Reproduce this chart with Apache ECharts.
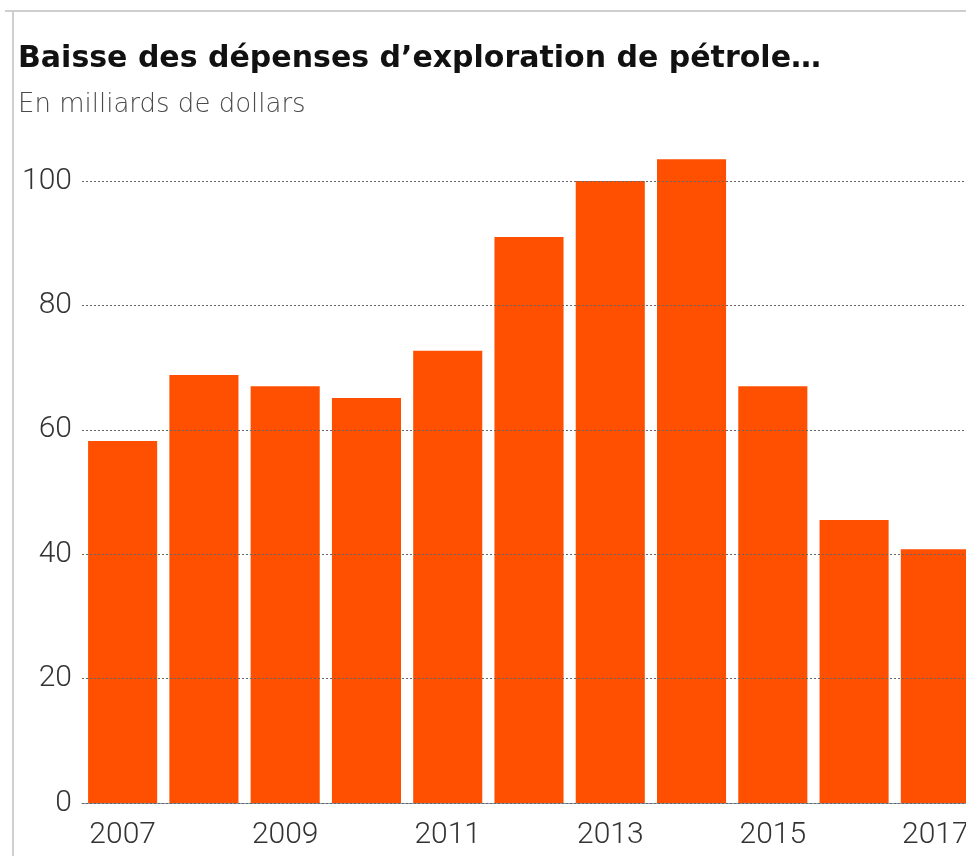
<!DOCTYPE html>
<html>
<head>
<meta charset="utf-8">
<script src="https://cdn.jsdelivr.net/npm/echarts@6/dist/echarts.min.js"></script>
<style>
  html, body { margin: 0; padding: 0; background: #fff; }
  #chart { width: 966px; height: 856px; }
</style>
</head>
<body>
<div id="chart"></div>
<script>
// données
const years = ['2007', '2008', '2009', '2010', '2011', '2012', '2013', '2014', '2015', '2016', '2017']
const spending = [58.2, 68.8, 67.0, 65.1, 72.7, 91.0, 100.0, 103.5, 67.0, 45.5, 40.8]
const yTicks = [0, 20, 40, 60, 80, 100]

const chart = echarts.init(document.getElementById('chart'))

chart.setOption({
  animation: false,
  backgroundColor: '#fff',
  title: {
    text: 'Baisse des dépenses d’exploration de pétrole…',
    subtext: 'En milliards de dollars',
    left: 13,
    top: 39,
    itemGap: 18,
    textStyle: {
      fontFamily: 'DejaVu Sans',
      fontWeight: 'bold',
      fontSize: 30,
      color: '#111'
    },
    subtextStyle: {
      fontFamily: 'DejaVu Sans',
      fontWeight: 200,
      fontSize: 26,
      color: '#4a4a4a'
    }
  },
  // cadre gris en haut et à gauche
  graphic: [
    { type: 'line', shape: { x1: 5, y1: 11, x2: 966, y2: 11 }, style: { stroke: '#cfcfcf', lineWidth: 2 } },
    { type: 'line', shape: { x1: 13, y1: 11, x2: 13, y2: 856 }, style: { stroke: '#cfcfcf', lineWidth: 2 } }
  ],
  grid: {
    left: 82,
    width: 894,
    top: 181,
    bottom: 53,
    outerBoundsMode: 'none',
    containLabel: false
  },
  xAxis: {
    type: 'category',
    data: years,
    z: 0,
    axisLine: { show: true, lineStyle: { color: '#8a97a8', width: 1 } },
    axisTick: { show: false },
    axisLabel: {
      interval: 1,
      margin: 17,
      fontFamily: 'Roboto',
      fontWeight: 300,
      fontSize: 30,
      color: '#333'
    }
  },
  yAxis: {
    type: 'value',
    min: 0,
    max: 100,
    interval: 20,
    z: 3,
    axisLine: { show: false },
    axisTick: { show: false },
    axisLabel: {
      margin: 10,
      fontFamily: 'Roboto',
      fontWeight: 300,
      fontSize: 30,
      color: '#333',
      formatter: v => (yTicks.includes(v) ? String(v) : '')
    },
    splitLine: {
      show: true,
      lineStyle: { color: '#666', type: [2, 2], width: 1 }
    }
  },
  series: [
    {
      type: 'bar',
      data: spending,
      z: 1,
      barCategoryGap: '15%',
      itemStyle: { color: '#ff4f00' },
      clip: false
    }
  ]
})
</script>
</body>
</html>
